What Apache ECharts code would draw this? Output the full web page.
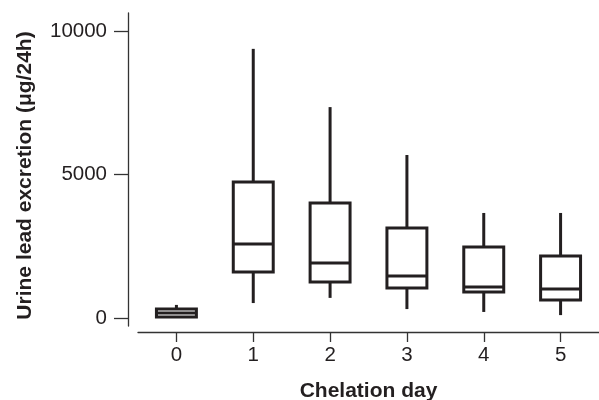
<!DOCTYPE html>
<html>
<head>
<meta charset="utf-8">
<script src="https://cdn.jsdelivr.net/npm/echarts@6/dist/echarts.min.js"></script>
<style>html,body{margin:0;padding:0;background:#fff}#c{width:599px;height:400px}</style>
</head>
<body>
<div id="c"></div>
<script>
var days = ['0', '1', '2', '3', '4', '5'];
var whiskerLow = [0, 520, 700, 310, 210, 100];
var q1 = [35, 1600, 1250, 1045, 905, 625];
var median = [175, 2580, 1915, 1465, 1080, 1010];
var q3 = [310, 4740, 4005, 3140, 2475, 2160];
var whiskerHigh = [455, 9380, 7350, 5680, 3660, 3660];
var yTicks = [0, 5000, 10000];

var data = days.map(function (d, i) {
  return [i, whiskerLow[i], q1[i], median[i], q3[i], whiskerHigh[i]];
});
var ink = '#231f20';
var font = '"Liberation Sans", Arial, Helvetica, sans-serif';

function renderItem(params, api) {
  var idx = api.value(0);
  var band = api.size([1, 0])[0];
  var w = band * 0.52;
  var pLow = api.coord([idx, api.value(1)]);
  var pQ1 = api.coord([idx, api.value(2)]);
  var pMed = api.coord([idx, api.value(3)]);
  var pQ3 = api.coord([idx, api.value(4)]);
  var pHigh = api.coord([idx, api.value(5)]);
  var x = pQ1[0];
  var style = { stroke: ink, lineWidth: 3, fill: null };
  return {
    type: 'group',
    children: [
      { type: 'line', shape: { x1: x, y1: pHigh[1], x2: x, y2: pQ3[1] }, style: style },
      { type: 'line', shape: { x1: x, y1: pQ1[1], x2: x, y2: pLow[1] }, style: style },
      { type: 'rect', shape: { x: x - w / 2, y: pQ3[1], width: w, height: pQ1[1] - pQ3[1] }, style: { stroke: ink, lineWidth: 3, fill: '#fff' } },
      { type: 'line', shape: { x1: x - w / 2, y1: pMed[1], x2: x + w / 2, y2: pMed[1] }, style: style }
    ]
  };
}

var chart = echarts.init(document.getElementById('c'), null, { renderer: 'canvas' });
chart.setOption({
  animation: false,
  backgroundColor: '#fff',
  grid: { left: 138, right: 0, top: 13, bottom: 74, containLabel: false, outerBoundsMode: 'none' },
  xAxis: {
    type: 'category',
    data: days,
    boundaryGap: true,
    offset: 6,
    name: 'Chelation day',
    nameLocation: 'middle',
    nameGap: 49,
    nameTextStyle: { fontFamily: font, fontWeight: 'bold', fontSize: 21, color: ink },
    axisLine: { show: true, onZero: false, lineStyle: { color: '#333', width: 1.3 } },
    axisTick: { show: true, alignWithLabel: true, length: 10, lineStyle: { color: '#333', width: 1.3 } },
    axisLabel: { margin: 13, fontFamily: font, fontSize: 20.5, color: ink },
    splitLine: { show: false }
  },
  yAxis: {
    type: 'value',
    min: -280,
    max: 10630,
    offset: 10,
    name: 'Urine lead excretion (\u03bcg/24h)',
    nameLocation: 'middle',
    nameGap: 92,
    nameTextStyle: { fontFamily: font, fontWeight: 'bold', fontSize: 21, color: ink, padding: [0, 12, 0, 0] },
    axisLine: { show: true, onZero: false, lineStyle: { color: '#333', width: 1.3 } },
    axisTick: { show: true, length: 14, customValues: yTicks, lineStyle: { color: '#333', width: 1.3 } },
    axisLabel: { margin: 21, customValues: yTicks, formatter: function (v) { return String(v); }, fontFamily: font, fontSize: 20.5, color: ink },
    splitLine: { show: false }
  },
  series: [{
    type: 'custom',
    renderItem: renderItem,
    encode: { x: 0, y: [1, 2, 3, 4, 5] },
    data: data
  }]
});
</script>
</body>
</html>
